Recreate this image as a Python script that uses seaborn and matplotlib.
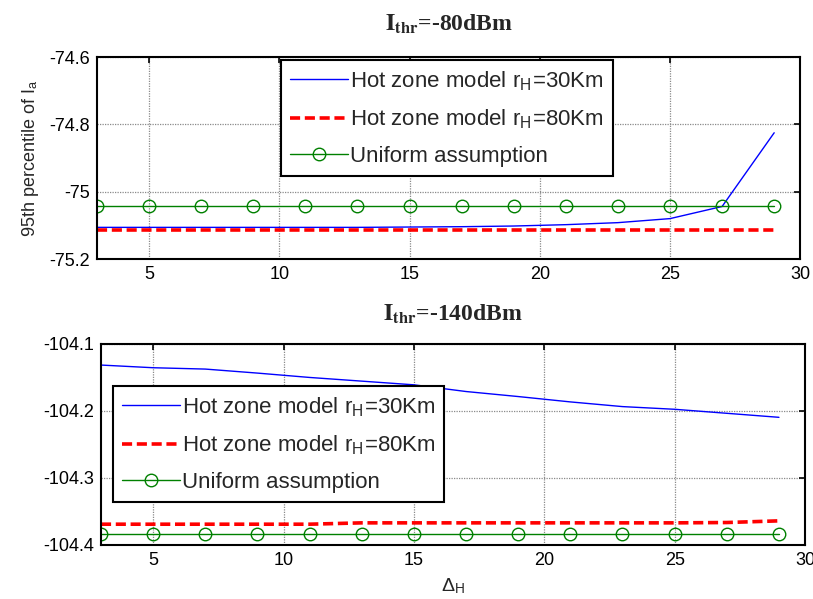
import numpy as np
import pandas as pd
import matplotlib
matplotlib.use("Agg")
import matplotlib.pyplot as plt
from matplotlib.ticker import FixedLocator, FuncFormatter
import seaborn as sns

# Hot-zone offset values (Delta_H)
delta_h = [3, 5, 7, 9, 11, 13, 15, 17, 19, 21, 23, 25, 27, 29]

# I_thr = -80 dBm
top_hot30 = [-75.106, -75.106, -75.106, -75.106, -75.106, -75.106, -75.105,
             -75.104, -75.102, -75.098, -75.092, -75.080, -75.044, -74.825]
top_hot80 = [-75.114] * 14
top_uniform = [-75.042] * 14

# I_thr = -140 dBm
bot_hot30 = [-104.1315, -104.1355, -104.1375, -104.1435, -104.1500, -104.1555, -104.1610,
             -104.1710, -104.1785, -104.1865, -104.1935, -104.1975, -104.2035, -104.2095]
bot_hot80 = [-104.369, -104.369, -104.369, -104.369, -104.369, -104.367, -104.367,
             -104.367, -104.367, -104.367, -104.367, -104.367, -104.3665, -104.364]
bot_uniform = [-104.384] * 14

series_labels = [r"Hot zone model r$_\mathregular{H}$=30Km",
                 r"Hot zone model r$_\mathregular{H}$=80Km",
                 "Uniform assumption"]
top_title = r"$\mathbf{I_{thr}}$=-80dBm"
bot_title = r"$\mathbf{I_{thr}}$=-140dBm"
top_yticks = [-74.6, -74.8, -75.0, -75.2]
bot_yticks = [-104.1, -104.2, -104.3, -104.4]
xticks = [5, 10, 15, 20, 25, 30]

sns.set_style("white")
plt.rcParams["font.family"] = ["Liberation Sans", "DejaVu Sans"]
plt.rcParams["mathtext.fontset"] = "stix"

fig = plt.figure(figsize=(8.13, 5.99), dpi=100)
ax_top = fig.add_axes([0.1193, 0.5676, 0.865, 0.3372])
ax_bot = fig.add_axes([0.1242, 0.0902, 0.866, 0.3356])


def draw(ax, hot30, hot80, uni):
    df = pd.DataFrame({"x": delta_h, "h30": hot30, "h80": hot80, "uni": uni})
    sns.lineplot(data=df, x="x", y="h30", ax=ax, color="#0000ff", linewidth=1.0,
                 label=series_labels[0])
    sns.lineplot(data=df, x="x", y="h80", ax=ax, color="#ff0000", linewidth=2.6,
                 label=series_labels[1], dashes=False)
    ax.lines[-1].set_dashes([2.8, 1.3])
    sns.lineplot(data=df, x="x", y="uni", ax=ax, color="#008000", linewidth=1.0,
                 marker="o", markersize=9, markerfacecolor="none",
                 markeredgecolor="#008000", markeredgewidth=1.0,
                 label=series_labels[2])


def style(ax, yticks, ylim):
    ax.set_xlim(3, 30)
    ax.set_ylim(*ylim)
    ax.xaxis.set_major_locator(FixedLocator(xticks))
    ax.yaxis.set_major_locator(FixedLocator(yticks))
    ax.yaxis.set_major_formatter(FuncFormatter(lambda v, p: f"{v:g}"))
    ax.tick_params(direction="in", top=True, right=True, length=4, width=1.2,
                   labelsize=13, colors="black", pad=5)
    ax.grid(True, color="#8a8a8a", linestyle=(0, (1, 1)), linewidth=0.9)
    for s in ax.spines.values():
        s.set_color("black")
        s.set_linewidth(1.5)
    ax.set_xlabel("")
    ax.set_ylabel("")


draw(ax_top, top_hot30, top_hot80, top_uniform)
draw(ax_bot, bot_hot30, bot_hot80, bot_uniform)
style(ax_top, top_yticks, (-75.2, -74.6))
style(ax_bot, bot_yticks, (-104.4, -104.1))

ax_top.set_title(top_title, fontsize=17, fontweight="bold",
                 family="Liberation Serif", pad=19)
ax_bot.set_title(bot_title, fontsize=17, fontweight="bold",
                 family="Liberation Serif", pad=17)
ax_top.set_ylabel(r"95th percentile of I$_\mathregular{a}$", fontsize=13, labelpad=6)
ax_bot.set_xlabel(r"Δ$_\mathregular{H}$", fontsize=14, labelpad=5)

for ax, anchor in ((ax_top, (0.262, 0.985)), (ax_bot, (0.017, 0.791))):
    leg = ax.legend(loc="upper left", bbox_to_anchor=anchor, borderaxespad=0,
                    fontsize=16, frameon=True, fancybox=False, framealpha=1,
                    edgecolor="black", handlelength=2.6, handletextpad=0.1,
                    labelspacing=0.7, borderpad=0.4)
    leg.get_frame().set_linewidth(1.5)

fig.savefig("out.png", dpi=100, facecolor="white")
